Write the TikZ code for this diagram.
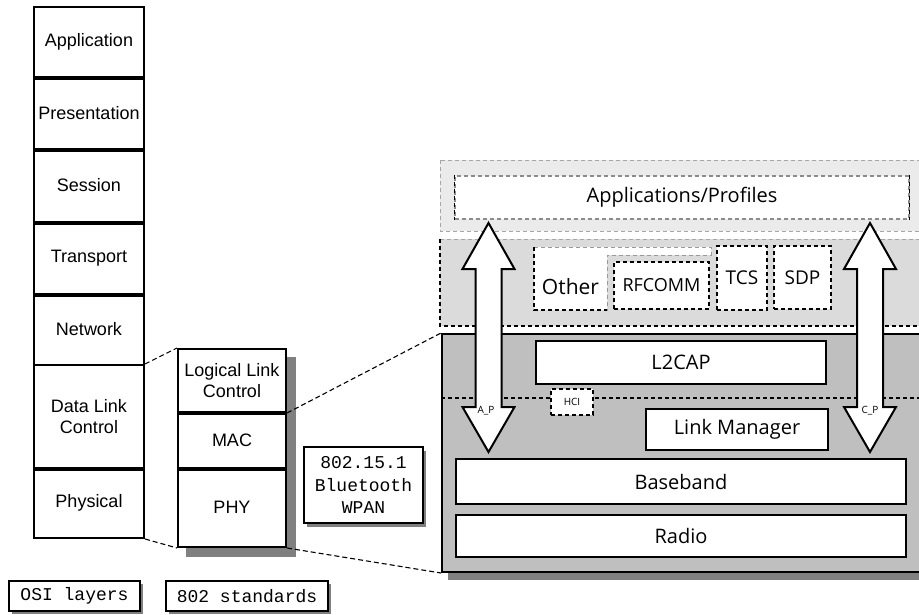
\documentclass[tikz,border=0pt]{standalone}
\usepackage{fontspec}
\setmainfont{Liberation Sans}
\setmonofont{Liberation Mono}
\newfontfamily\stackfont{Open Sans}
\begin{document}
\begin{tikzpicture}[x=1pt,y=-1pt,
  layerbox/.style={draw, line width=2pt, fill=white, inner sep=0pt, align=center,
    font=\fontsize{18}{21}\selectfont},
  osibox/.style={layerbox, minimum width=110pt},
  stdbox/.style={layerbox, minimum width=108pt},
  sep/.style={line width=3.8pt},
  monobox/.style={draw, line width=2pt, fill=white, inner sep=0pt, align=center,
    font=\ttfamily\fontsize{18}{22.5}\selectfont},
  shade/.style={fill=black!50},
  btbox/.style={draw, line width=2pt, fill=white, inner sep=0pt,
    font=\stackfont\fontsize{20}{24}\selectfont},
  dbox/.style={draw, line width=1.4pt, dash pattern=on 4pt off 3pt, fill=white, inner sep=0pt,
    font=\stackfont\fontsize{19}{23}\selectfont},
  zoomline/.style={line width=1.1pt, dash pattern=on 5pt off 3pt},
  tag/.style={inner sep=0pt, font=\stackfont\fontsize{10}{12}\selectfont}
]
\useasboundingbox (0,0) rectangle (919,615);

% ---------------- OSI reference stack ----------------
\node[osibox, minimum height=70pt] (app)  at (89,42)    {Application};
\node[osibox, minimum height=72pt] (pres) at (89,113)   {Presentation};
\node[osibox, minimum height=73pt] (sess) at (89,185.5) {Session};
\node[osibox, minimum height=72pt] (trans) at (89,258)  {Transport};
\node[osibox, minimum height=71pt] (net)  at (89,329.5) {Network};
\node[osibox, minimum height=103pt] (dlc) at (89,416.5) {Data Link\\Control};
\node[osibox, minimum height=70pt] (phys) at (89,503)   {Physical};
\foreach \n in {app,pres,sess,trans,dlc}
  \draw[sep] (\n.south west) -- (\n.south east);

% ---------------- IEEE 802 stack ----------------
\fill[shade] (186,357) rectangle (296,557);
\node[stdbox, minimum height=63pt] (llc) at (232,380.5) {Logical Link\\Control};
\node[stdbox, minimum height=56pt] (mac) at (232,440)   {MAC};
\node[stdbox, minimum height=79pt] (phy) at (232,507.5) {PHY};
\draw[sep] (llc.south west) -- (llc.south east);
\draw[sep] (mac.south west) -- (mac.south east);

% 802.15.1 label
\fill[shade] (307,451) rectangle (426,527);
\node[monobox, minimum width=119pt, minimum height=76pt] (wpan) at (363.5,485)
  {802.15.1\\Bluetooth\\WPAN};

% legend
\fill[shade] (12,584) rectangle (143,614);
\node[monobox, minimum width=131pt, minimum height=30pt] (osileg) at (74.5,596) {OSI layers};
\fill[shade] (169,584) rectangle (331,614);
\node[monobox, minimum width=162pt, minimum height=30pt] (stdleg) at (247,596) {802 standards};

% ---------------- Bluetooth stack ----------------
\begin{scope}
\clip (0,0) rectangle (919,615);
% upper (host) bands
\draw[fill=black!8, draw=black!35, line width=0.8pt, dash pattern=on 4pt off 3pt]
  (440,160) rectangle (935,231);
\fill[black!14] (440,239) rectangle (935,326);
\draw[draw=black!35, line width=0.8pt, dash pattern=on 4pt off 3pt] (440,239) -- (935,239);
\draw[line width=1.4pt, dash pattern=on 4pt off 3pt] (440,239) -- (440,326) -- (935,326);
% lower (controller) block with shadow
\fill[shade] (448,345) rectangle (940,580);
\node[draw, line width=2pt, fill=black!25, inner sep=0pt, anchor=north west,
  minimum width=499pt, minimum height=238pt] (core) at (441,333) {};
\draw[line width=1.4pt, dash pattern=on 4pt off 3pt] (441,398) -- (940,398);
\end{scope}

% Applications/Profiles
\node[dbox, draw=black!45, minimum width=454pt, minimum height=43pt,
  font=\stackfont\fontsize{20}{24}\selectfont] (prof) at (682,197.5) {Applications/Profiles};
\draw[line width=1.4pt, dash pattern=on 4pt off 3pt] (prof.north west) -- (prof.south west);
\draw[line width=1.4pt, dash pattern=on 4pt off 3pt] (prof.north east) -- (prof.south east);

% "Other" protocols (L-shaped area)
\draw[fill=white, draw=black!40, line width=1pt, dash pattern=on 4pt off 3pt]
  (534,247) -- (711,247) -- (711,255) -- (607,255) -- (607,310) -- (534,310) -- cycle;
\draw[line width=1.4pt, dash pattern=on 4pt off 3pt] (534,247) -- (534,310) -- (607,310);
\node[inner sep=0pt, font=\stackfont\fontsize{21}{25}\selectfont] (other) at (570.5,287) {Other};
\node[dbox, minimum width=95pt, minimum height=47pt, font=\stackfont\fontsize{18}{22}\selectfont]
  (rfcomm) at (661.5,285.5) {RFCOMM};
\node[dbox, minimum width=50pt, minimum height=64pt] (tcs) at (742,278) {TCS};
\node[dbox, minimum width=57pt, minimum height=63pt] (sdp) at (802.5,277.5) {SDP};

% controller layers
\node[btbox, minimum width=290pt, minimum height=43pt] (l2cap) at (681,362.5) {L2CAP};
\node[dbox, minimum width=42pt, minimum height=26pt, font=\stackfont\fontsize{10}{12}\selectfont]
  (hci) at (572,402) {HCI};
\node[btbox, minimum width=182pt, minimum height=41pt] (lm) at (737,429.5) {Link Manager};
\node[btbox, minimum width=450pt, minimum height=45pt] (bb) at (681,481.5) {Baseband};
\node[btbox, minimum width=450pt, minimum height=42pt] (radio) at (681,536) {Radio};

% vertical double arrows
\foreach \cx in {488.5,870}
  \draw[fill=white, line width=2pt, line join=miter]
    (\cx,223) -- (\cx+26,269) -- (\cx+13,269) -- (\cx+13,407) -- (\cx+26,407) --
    (\cx,452) -- (\cx-26,407) -- (\cx-13,407) -- (\cx-13,269) -- (\cx-26,269) -- cycle;
\node[tag] (ap) at (486,411) {A\_P};
\node[tag] (cp) at (870,411) {C\_P};

% zoom connectors between the stacks
\draw[zoomline] (dlc.north east) -- (llc.north west);
\draw[zoomline] (phys.south east) -- (phy.south west);
\draw[zoomline] (llc.south east) -- (core.north west);
\draw[zoomline] (phy.south east) -- (core.south west);
\end{tikzpicture}
\end{document}
